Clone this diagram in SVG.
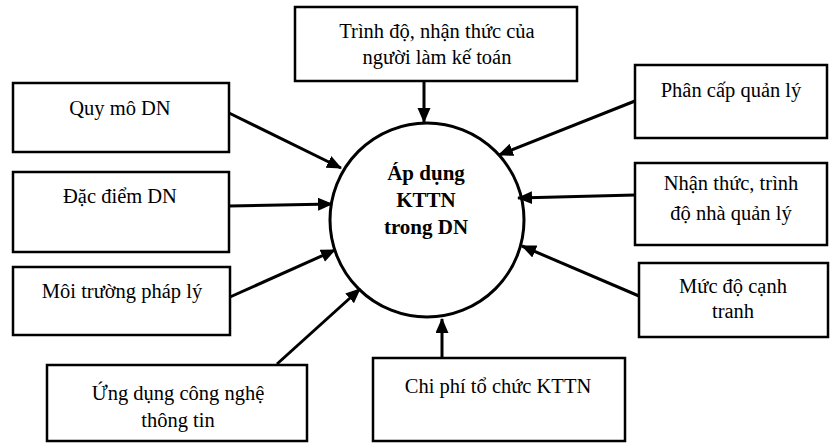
<svg xmlns="http://www.w3.org/2000/svg" width="830" height="443" viewBox="0 0 830 443">
<style>
.box{fill:#fff;stroke:#000;stroke-width:2.5}
.t{font-family:"Liberation Serif","Times New Roman",serif;font-size:20.5px;fill:#000;text-anchor:middle}
.c{font-family:"Liberation Serif","Times New Roman",serif;font-size:21px;font-weight:bold;fill:#000;text-anchor:middle}
.arr{stroke:#000;stroke-width:3;fill:none;marker-end:url(#ah)}
</style>
<defs>
<marker id="ah" markerUnits="userSpaceOnUse" markerWidth="16" markerHeight="14" refX="14" refY="6.5" orient="auto">
<path d="M0,0 L15,6.5 L0,13 Z" fill="#000"/>
</marker>
</defs>
<rect width="830" height="443" fill="#fff"/>
<g id="connectors">
<line class="arr" x1="424" y1="81" x2="424" y2="122"/>
<line class="arr" x1="229" y1="113" x2="341" y2="168"/>
<line class="arr" x1="229" y1="206" x2="332" y2="204"/>
<line class="arr" x1="230" y1="297" x2="335" y2="250"/>
<line class="arr" x1="277" y1="364" x2="360" y2="289"/>
<line class="arr" x1="635" y1="101" x2="499" y2="155"/>
<line class="arr" x1="635" y1="195" x2="518" y2="198"/>
<line class="arr" x1="639" y1="296" x2="522" y2="246"/>
<line class="arr" x1="442" y1="358" x2="442" y2="319"/>
</g>
<g id="center">
<circle cx="427" cy="220" r="97" fill="none" stroke="#000" stroke-width="3"/>
<text class="c" x="426" y="180">Áp dụng</text>
<text class="c" x="426" y="207">KTTN</text>
<text class="c" x="426" y="234">trong DN</text>
</g>
<g id="n-trinhdo">
<rect class="box" x="295" y="7" width="282" height="74"/>
<text class="t" x="437" y="38">Trình độ, nhận thức của</text>
<text class="t" x="437" y="64">người làm kế toán</text>
</g>
<g id="n-quymo">
<rect class="box" x="13" y="83" width="216" height="69"/>
<text class="t" x="120" y="115">Quy mô DN</text>
</g>
<g id="n-dacdiem">
<rect class="box" x="13" y="172" width="216" height="80"/>
<text class="t" x="120" y="203">Đặc điểm DN</text>
</g>
<g id="n-moitruong">
<rect class="box" x="13" y="267" width="217" height="68"/>
<text class="t" x="122" y="298">Môi trường pháp lý</text>
</g>
<g id="n-ungdung">
<rect class="box" x="47" y="365" width="260" height="76"/>
<text class="t" x="178" y="400">Ứng dụng công nghệ</text>
<text class="t" x="178" y="427">thông tin</text>
</g>
<g id="n-phancap">
<rect class="box" x="635" y="65" width="192" height="73"/>
<text class="t" x="731" y="97">Phân cấp quản lý</text>
</g>
<g id="n-nhanthuc">
<rect class="box" x="635" y="163" width="192" height="82"/>
<text class="t" x="731" y="190">Nhận thức, trình</text>
<text class="t" x="731" y="220">độ nhà quản lý</text>
</g>
<g id="n-mucdo">
<rect class="box" x="639" y="263" width="189" height="74"/>
<text class="t" x="733" y="293">Mức độ cạnh</text>
<text class="t" x="733" y="318">tranh</text>
</g>
<g id="n-chiphi">
<rect class="box" x="373" y="358" width="252" height="83"/>
<text class="t" x="498" y="393">Chi phí tổ chức KTTN</text>
</g>
</svg>
